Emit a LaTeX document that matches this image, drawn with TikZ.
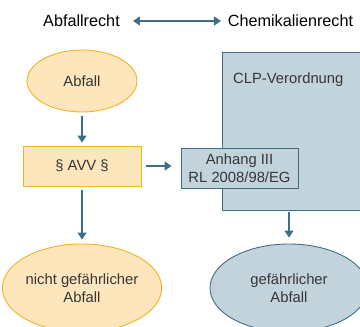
\documentclass[tikz,border=0pt]{standalone}
\usepackage{fontspec}
\setmainfont{Liberation Sans}
\usetikzlibrary{arrows.meta,shapes.geometric}
\definecolor{orfill}{HTML}{FDE5BC}
\definecolor{ordraw}{HTML}{F3B221}
\definecolor{blfill}{HTML}{C2D3DC}
\definecolor{bldraw}{HTML}{3F6E87}
\definecolor{txt}{HTML}{363636}
\tikzset{
  bodyfont/.style={font=\fontsize{14.8}{18}\selectfont},
  orbox/.style={draw=ordraw,fill=orfill,line width=0.9pt,text=txt,bodyfont,align=center,inner sep=0pt},
  blbox/.style={draw=bldraw,fill=blfill,line width=0.9pt,text=txt,bodyfont,align=center,inner sep=0pt},
  arr/.style={draw=bldraw,line width=1.6pt,-{Triangle[length=7pt,width=9pt]}},
  hdr/.style={text=black,font=\fontsize{16.2}{18}\selectfont,inner sep=0pt}
}
\begin{document}
\begin{tikzpicture}[x=1pt,y=-1pt]
\useasboundingbox (0,0) rectangle (360,327);
\clip (0,0) rectangle (360,327);
\node[hdr] (ar) at (81.5,21) {Abfallrecht};
\node[hdr] (cr) at (290.5,21) {Chemikalienrecht};
\coordinate (hl) at (133,21);
\coordinate (hr) at (221,21);
\draw[draw=bldraw,line width=1.6pt,{Triangle[length=7pt,width=9pt]}-{Triangle[length=7pt,width=9pt]}] (hl) -- (hr);
\node[orbox,ellipse,minimum width=110pt,minimum height=62pt] (abfall) at (82,81) {Abfall};
\node[orbox,rectangle,minimum width=118pt,minimum height=40pt] (avv) at (82,166) {§ AVV §};
\node[blbox,rectangle,minimum width=141pt,minimum height=158pt] (clp) at (292.5,131) {};
\node[text=txt,bodyfont,anchor=west,inner sep=0pt] (clpt) at (233,80) {CLP-Verordnung};
\node[blbox,rectangle,minimum width=117pt,minimum height=40pt] (anh) at (239.5,168) {Anhang III\\RL 2008/98/EG};
\node[orbox,ellipse,minimum width=158pt,minimum height=88pt] (nga) at (82,288) {nicht gefährlicher\\Abfall};
\node[blbox,ellipse,minimum width=158pt,minimum height=88pt] (ga) at (289,288) {gefährlicher\\Abfall};
\draw[arr,shorten <=4pt,shorten >=3pt] (abfall.south) -- (avv.north);
\draw[arr,shorten <=5pt,shorten >=9pt] (avv.east) -- (avv.east -| anh.west);
\draw[arr,shorten <=4pt,shorten >=4pt] (avv.south) -- (nga.north);
\draw[arr,shorten <=2pt,shorten >=6pt] (clp.south -| ga.north) -- (ga.north);
\end{tikzpicture}
\end{document}
